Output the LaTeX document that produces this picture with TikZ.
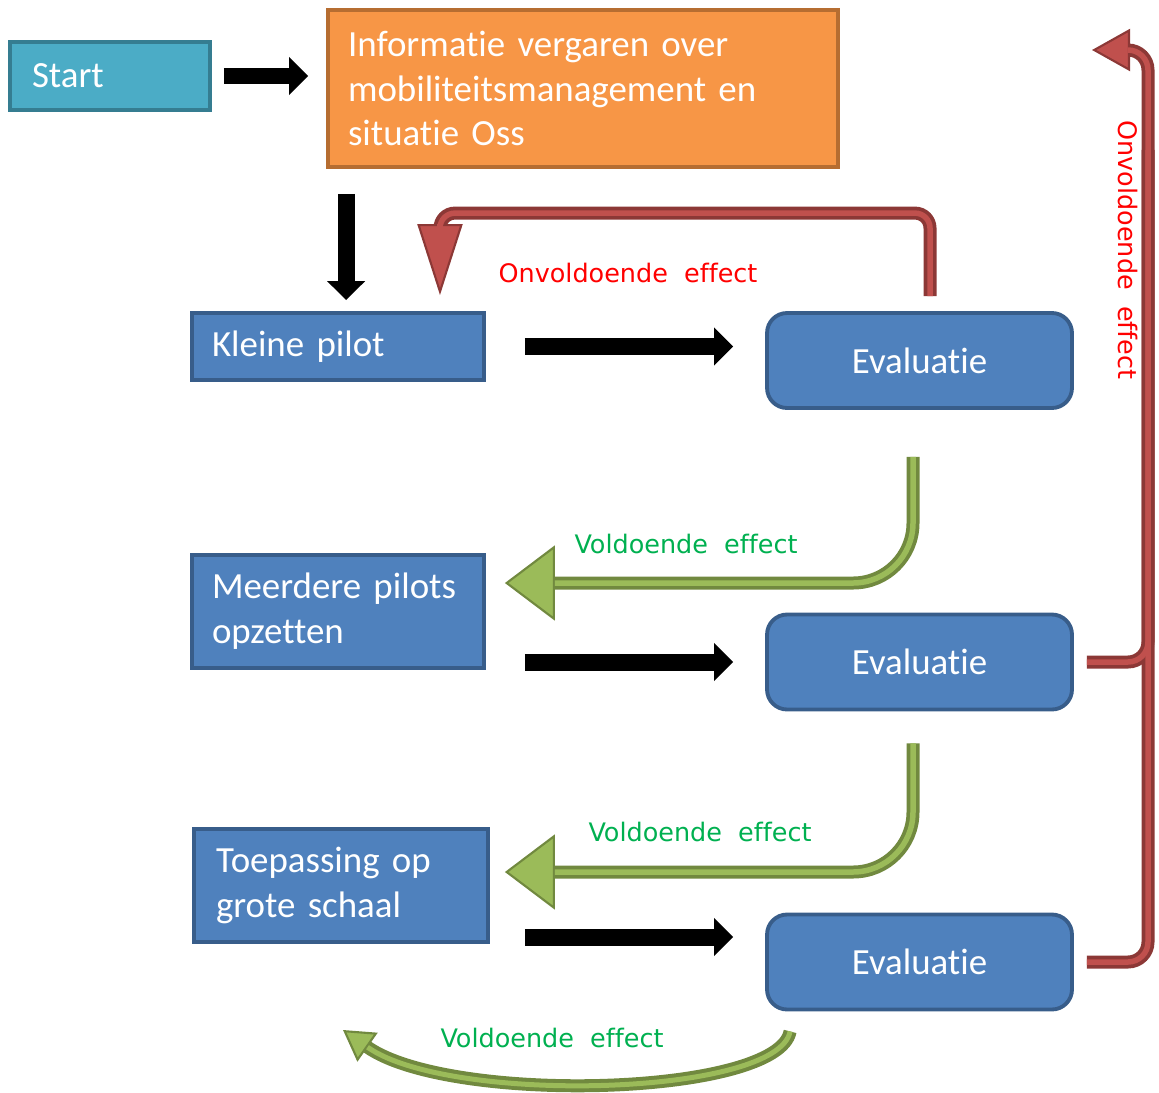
\documentclass[tikz,border=0pt]{standalone}
\usepackage{fontspec}
\setmainfont{Carlito}[Ligatures={NoCommon,NoRequired,NoContextual}, Contextuals=NoAlternate]
\newfontfamily\notefont{DejaVu Sans}[WordSpace=2, Ligatures=NoCommon]
\usetikzlibrary{arrows.meta}

\definecolor{startfill}{HTML}{4BACC6}
\definecolor{startline}{HTML}{357D91}
\definecolor{infofill}{HTML}{F79646}
\definecolor{infoline}{HTML}{B66D31}
\definecolor{stepfill}{HTML}{4F81BD}
\definecolor{stepline}{HTML}{385D8A}
\definecolor{reddark}{HTML}{8C3836}
\definecolor{redlight}{HTML}{C0504D}
\definecolor{greendark}{HTML}{71893F}
\definecolor{greenlight}{HTML}{9BBB59}
\definecolor{txtred}{HTML}{FF0000}
\definecolor{txtgreen}{HTML}{00B050}

\tikzset{
  box/.style={draw=stepline, fill=stepfill, line width=2.2pt, text=white, align=left, inner ysep=2pt, font=\fontsize{21}{25.5}\selectfont},
  evalbox/.style={box, rounded corners=0.4cm, minimum width=6.1cm, minimum height=1.9cm, align=center},
  flow/.style={line width=0.34cm, -{Triangle[width=0.74cm, length=0.38cm]}},
  redout/.style={draw=reddark, line width=0.26cm, rounded corners=0.3cm},
  redin/.style={draw=redlight, line width=0.11cm, rounded corners=0.3cm},
  greenout/.style={draw=greendark, line width=0.26cm, rounded corners=1.2cm},
  greenin/.style={draw=greenlight, line width=0.11cm, rounded corners=1.2cm},
  note/.style={font=\notefont\fontsize{14.5}{17}\selectfont},
}

\begin{document}
\begin{tikzpicture}[x=0.02cm, y=-0.02cm]
\useasboundingbox (0,0) rectangle (1159,1092);

\node[box, draw=startline, fill=startfill, text width=3.12cm, inner xsep=0.44cm, minimum height=1.36cm] (Start) at (110,76) {Start};
\node[box, draw=infoline, fill=infofill, text width=9.4cm, inner xsep=0.4cm, minimum height=3.14cm] (Info) at (583,88.5) {Informatie vergaren over\\mobiliteitsmanagement en\\situatie Oss};
\node[box, text width=5.04cm, inner xsep=0.4cm, minimum height=1.34cm] (Klein) at (338,346.5) {Kleine pilot};
\node[box, text width=5.04cm, inner xsep=0.4cm, minimum height=2.26cm] (Meer) at (338,611.5) {Meerdere pilots\\opzetten};
\node[box, text width=5.0cm, inner xsep=0.44cm, minimum height=2.26cm] (Toep) at (341,885.5) {Toepassing op\\grote schaal};
\node[evalbox] (E1) at (919.5,360.5) {Evaluatie};
\node[evalbox] (E2) at (919.5,662) {Evaluatie};
\node[evalbox] (E3) at (919.5,962) {Evaluatie};
\coordinate (Back) at (343,1030);
\coordinate (Top) at (1092,50);

\draw[flow, shorten <=0.24cm, shorten >=0.36cm] (Start) -- (Start -| Info.west);
\draw[flow, shorten <=0.5cm, shorten >=0.22cm] ([xshift=0.4cm]Info.south west) -- ([xshift=0.4cm]Info.south west |- Klein.north);
\draw[flow, shorten <=0.78cm, shorten >=0.64cm] (Klein) -- (Klein -| E1.west);
\draw[flow, shorten <=0.78cm, shorten >=0.64cm] (E2 -| Meer.east) -- (E2);
\draw[flow, shorten <=0.7cm, shorten >=0.64cm] (Toep.east |- 0,937) -- (E3.west |- 0,937);

\draw[redout, -{Triangle[width=0.9cm, length=1.42cm, fill=redlight, line width=1.2pt]}] ([xshift=0.21cm,yshift=0.3cm]E1.north) |- ([xshift=2.04cm,yshift=1.96cm]Klein.north) -- ([xshift=2.04cm,yshift=0.32cm]Klein.north);
\draw[redin, shorten >=1.42cm] ([xshift=0.21cm,yshift=0.3cm]E1.north) |- ([xshift=2.04cm,yshift=1.96cm]Klein.north) -- ([xshift=2.04cm,yshift=0.32cm]Klein.north);

\draw[redout, rounded corners=0.4cm, -{Triangle[width=0.84cm, length=0.76cm, fill=redlight, line width=1.2pt]}] ([xshift=0.26cm]E3.east) -| ([xshift=1.12cm]Top) -- (Top);
\draw[redout, rounded corners=0.4cm] ([xshift=0.26cm]E2.east) -| ([xshift=1.12cm,yshift=-2cm]Top);
\draw[redin, rounded corners=0.4cm, shorten >=0.76cm] ([xshift=0.26cm]E3.east) -| ([xshift=1.12cm]Top) -- (Top);
\draw[redin, rounded corners=0.4cm] ([xshift=0.26cm]E2.east) -| ([xshift=1.12cm,yshift=-2cm]Top);

\draw[greenout, -{Triangle[width=1.5cm, length=1.0cm, fill=greenlight, line width=1.2pt]}] ([xshift=-0.13cm,yshift=-0.94cm]E1.south) |- ([xshift=0.38cm,yshift=0.57cm]Meer.east);
\draw[greenin, shorten >=1.0cm] ([xshift=-0.13cm,yshift=-0.94cm]E1.south) |- ([xshift=0.38cm,yshift=0.57cm]Meer.east);
\draw[greenout, -{Triangle[width=1.5cm, length=1.0cm, fill=greenlight, line width=1.2pt]}] ([xshift=-0.13cm,yshift=-0.64cm]E2.south) |- ([xshift=0.3cm,yshift=0.27cm]Toep.east);
\draw[greenin, shorten >=1.0cm] ([xshift=-0.13cm,yshift=-0.64cm]E2.south) |- ([xshift=0.3cm,yshift=0.27cm]Toep.east);

\draw[greendark, line width=0.26cm, -{Triangle[width=0.7cm, length=0.6cm, fill=greenlight, line width=1.2pt]}] ([xshift=0.5cm,yshift=-0.4cm]E3.south west) .. controls +(-12,65) and +(107,75) .. (Back);
\draw[greenlight, line width=0.1cm, shorten >=0.6cm] ([xshift=0.5cm,yshift=-0.4cm]E3.south west) .. controls +(-12,65) and +(107,75) .. (Back);

\node[note, text=txtred] (L1) at (628,273) {Onvoldoende effect};
\node[note, text=txtgreen] (L2) at (686,544) {Voldoende effect};
\node[note, text=txtgreen] (L3) at (700,832) {Voldoende effect};
\node[note, text=txtgreen] (L4) at (552,1038) {Voldoende effect};
\node[note, text=txtred, rotate=-90] (L5) at (1128,250) {Onvoldoende effect};
\end{tikzpicture}
\end{document}
